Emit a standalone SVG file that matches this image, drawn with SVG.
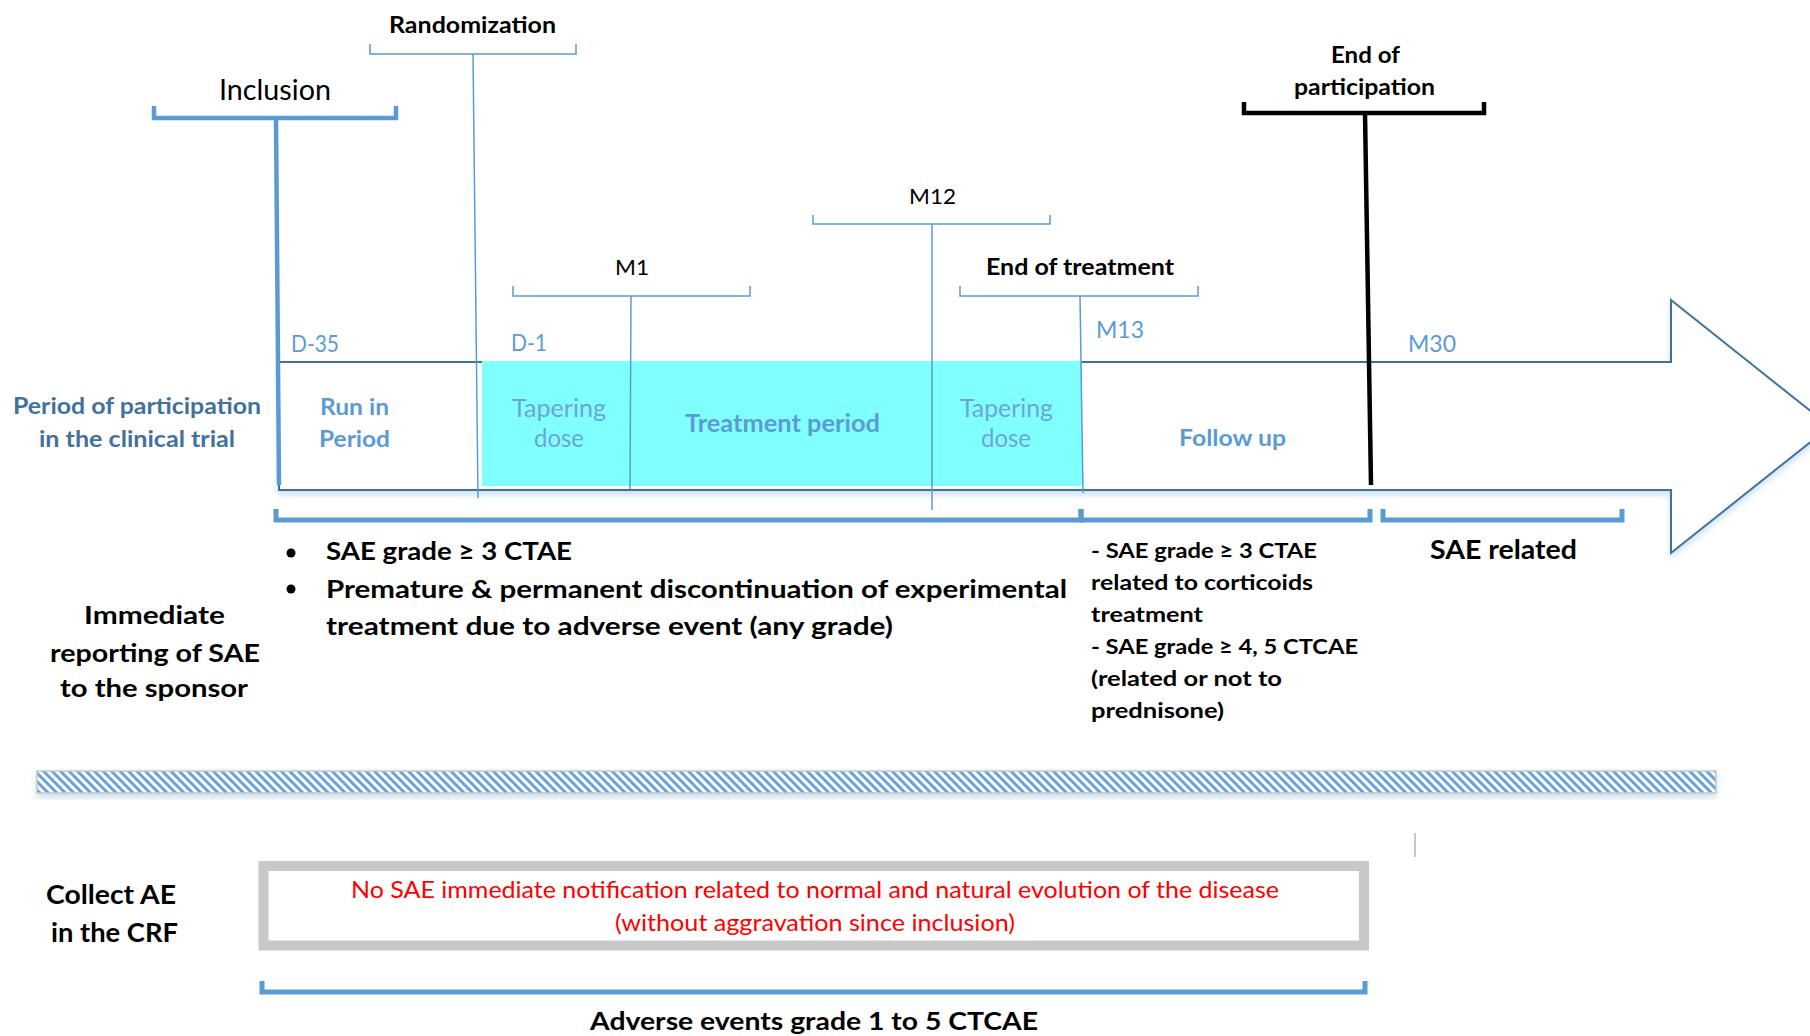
<svg xmlns="http://www.w3.org/2000/svg" width="1810" height="1036" viewBox="0 0 1810 1036">
<defs>
<style>
text{font-family:Lato,"Liberation Sans",sans-serif;}
.b{font-weight:700;}
.blk{fill:#000;}
.lb{fill:#5b9bd5;}
.dk{fill:#41719c;}
.tp{fill:#6fa3d8;}
.red{fill:#ff0000;}
.thin{fill:none;stroke:#5b9bd5;stroke-width:1.5;}
.thick{fill:none;stroke:#5b9bd5;stroke-width:5;}
.blkline{fill:none;stroke:#000;stroke-width:4.5;}
</style>
<pattern id="hatch" patternUnits="userSpaceOnUse" width="6" height="6" patternTransform="rotate(-45)">
<rect width="6" height="6" fill="#ffffff"/>
<rect width="3" height="6" fill="#6aa3da"/>
</pattern>
<filter id="sh" x="-5%" y="-20%" width="110%" height="150%">
<feDropShadow dx="0" dy="4" stdDeviation="3" flood-color="#5b9bd5" flood-opacity="0.3"/>
</filter>
</defs>
<rect width="1810" height="1036" fill="#ffffff"/>

<g id="timeline-arrow">
<polygon points="279,362 1671,362 1671,300 1830,426.5 1671,553 1671,490 279,490" fill="#ffffff" stroke="#41719c" stroke-width="2" filter="url(#sh)"/>
<rect x="482" y="361" width="600" height="125" fill="#80ffff"/>
</g>

<g id="connectors">
<path class="thin" d="M473,54 L478,498"/>
<path class="thin" d="M631,296 L630,489"/>
<path class="thin" d="M932,224 L932,510"/>
<path class="thin" d="M1080,296 L1083,493"/>
<path d="M276,118 L279,485" fill="none" stroke="#5b9bd5" stroke-width="4.5"/>
<path class="blkline" d="M1365,113 L1371,485"/>
</g>

<g id="inclusion">
<path d="M154,106 V118 H396 V106" fill="none" stroke="#5b9bd5" stroke-width="4.5"/>
<text x="219" y="100" font-size="28" class="blk" textLength="112" lengthAdjust="spacingAndGlyphs">Inclusion</text>
</g>
<g id="randomization">
<path class="thin" d="M370,44 V54 H576 V44"/>
<text x="389" y="33" font-size="22" class="b blk" textLength="167" lengthAdjust="spacingAndGlyphs">Randomization</text>
</g>
<g id="m1">
<path class="thin" d="M513,286 V296 H750 V286"/>
<text x="615" y="275" font-size="22" class="blk" textLength="34" lengthAdjust="spacingAndGlyphs">M1</text>
</g>
<g id="m12">
<path class="thin" d="M813,215 V224 H1050 V215"/>
<text x="909" y="204" font-size="22" class="blk" textLength="47" lengthAdjust="spacingAndGlyphs">M12</text>
</g>
<g id="end-of-treatment">
<path class="thin" d="M960,286 V296 H1198 V286"/>
<text x="986" y="275" font-size="22" class="b blk" textLength="188" lengthAdjust="spacingAndGlyphs">End of treatment</text>
</g>
<g id="end-of-participation">
<path class="blkline" d="M1244,102 V113 H1484 V102"/>
<text x="1331" y="63" font-size="22" class="b blk" textLength="69" lengthAdjust="spacingAndGlyphs">End of</text>
<text x="1294" y="95" font-size="22" class="b blk" textLength="141" lengthAdjust="spacingAndGlyphs">participation</text>
</g>

<g id="time-labels">
<text x="291" y="352" font-size="23" class="lb" textLength="48" lengthAdjust="spacingAndGlyphs">D-35</text>
<text x="511" y="351" font-size="23" class="lb" textLength="36" lengthAdjust="spacingAndGlyphs">D-1</text>
<text x="1096" y="338" font-size="23" class="lb" textLength="48" lengthAdjust="spacingAndGlyphs">M13</text>
<text x="1408" y="352" font-size="23" class="lb" textLength="48" lengthAdjust="spacingAndGlyphs">M30</text>
</g>

<g id="participation-label">
<text x="13" y="414" font-size="22.5" class="b dk" textLength="248" lengthAdjust="spacingAndGlyphs">Period of participation</text>
<text x="39" y="447" font-size="22.5" class="b dk" textLength="196" lengthAdjust="spacingAndGlyphs">in the clinical trial</text>
</g>
<g id="run-in">
<text x="320" y="415" font-size="23.5" class="b lb" textLength="69" lengthAdjust="spacingAndGlyphs">Run in</text>
<text x="319" y="447" font-size="23.5" class="b lb" textLength="71" lengthAdjust="spacingAndGlyphs">Period</text>
</g>
<g id="tapering-1">
<text x="512" y="417" font-size="25" class="tp" textLength="94" lengthAdjust="spacingAndGlyphs">Tapering</text>
<text x="534" y="447" font-size="25" class="tp" textLength="50" lengthAdjust="spacingAndGlyphs">dose</text>
</g>
<g id="treatment-period">
<text x="685" y="432" font-size="24" class="b lb" textLength="195" lengthAdjust="spacingAndGlyphs">Treatment period</text>
</g>
<g id="tapering-2">
<text x="960" y="417" font-size="25" class="tp" textLength="93" lengthAdjust="spacingAndGlyphs">Tapering</text>
<text x="981" y="447" font-size="25" class="tp" textLength="50" lengthAdjust="spacingAndGlyphs">dose</text>
</g>
<g id="follow-up">
<text x="1179" y="446" font-size="23" class="b lb" textLength="107" lengthAdjust="spacingAndGlyphs">Follow up</text>
</g>

<g id="brackets">
<path class="thick" d="M276,509 V520 H1081 V509"/>
<path class="thick" d="M1081,509 V520 H1370 V509"/>
<path class="thick" d="M1383,509 V520 H1622 V509"/>
</g>

<g id="sae-main">
<circle cx="291" cy="553" r="4.5" fill="#000"/>
<circle cx="291" cy="589" r="4.5" fill="#000"/>
<text x="326" y="560" font-size="24" class="b blk" textLength="246" lengthAdjust="spacingAndGlyphs">SAE grade ≥ 3 CTAE</text>
<text x="326" y="598" font-size="24" class="b blk" textLength="741" lengthAdjust="spacingAndGlyphs">Premature &amp; permanent discontinuation of experimental</text>
<text x="326" y="635" font-size="24" class="b blk" textLength="567" lengthAdjust="spacingAndGlyphs">treatment due to adverse event (any grade)</text>
</g>
<g id="sae-followup">
<text x="1091" y="558" font-size="21" class="b blk" textLength="226" lengthAdjust="spacingAndGlyphs">- SAE grade ≥ 3 CTAE</text>
<text x="1091" y="590" font-size="21" class="b blk" textLength="222" lengthAdjust="spacingAndGlyphs">related to corticoids</text>
<text x="1091" y="622" font-size="21" class="b blk" textLength="112" lengthAdjust="spacingAndGlyphs">treatment</text>
<text x="1091" y="654" font-size="21" class="b blk" textLength="267" lengthAdjust="spacingAndGlyphs">- SAE grade ≥ 4, 5 CTCAE</text>
<text x="1091" y="686" font-size="21" class="b blk" textLength="191" lengthAdjust="spacingAndGlyphs">(related or not to</text>
<text x="1091" y="718" font-size="21" class="b blk" textLength="133" lengthAdjust="spacingAndGlyphs">prednisone)</text>
</g>
<g id="sae-related">
<text x="1430" y="559" font-size="26" class="b blk" textLength="147" lengthAdjust="spacingAndGlyphs">SAE related</text>
</g>
<g id="immediate-reporting">
<text x="84" y="624" font-size="25" class="b blk" textLength="141" lengthAdjust="spacingAndGlyphs">Immediate</text>
<text x="50" y="662" font-size="25" class="b blk" textLength="210" lengthAdjust="spacingAndGlyphs">reporting of SAE</text>
<text x="60" y="697" font-size="25" class="b blk" textLength="188" lengthAdjust="spacingAndGlyphs">to the sponsor</text>
</g>

<g id="separator">
<rect x="37" y="771" width="1679" height="22" fill="url(#hatch)" stroke="#c8c8c8" stroke-width="1.5" filter="url(#sh)"/>
</g>

<g id="collect-ae">
<text x="46" y="904" font-size="26" class="b blk" textLength="130" lengthAdjust="spacingAndGlyphs">Collect AE</text>
<text x="51" y="942" font-size="26" class="b blk" textLength="127" lengthAdjust="spacingAndGlyphs">in the CRF</text>
</g>
<g id="notification-box">
<rect x="263.5" y="866" width="1100.5" height="79.5" fill="#ffffff" stroke="#c8c8c8" stroke-width="10"/>
<text x="351" y="898" font-size="23" class="red" textLength="928" lengthAdjust="spacingAndGlyphs">No SAE immediate notification related to normal and natural evolution of the disease</text>
<text x="615" y="931" font-size="23" class="red" textLength="400" lengthAdjust="spacingAndGlyphs">(without aggravation since inclusion)</text>
</g>
<line x1="1415" y1="833" x2="1415" y2="857" stroke="#c8c8c8" stroke-width="2"/>
<g id="adverse-events">
<path class="thick" d="M262,981 V992 H1365 V981"/>
<text x="590" y="1030" font-size="25" class="b blk" textLength="448" lengthAdjust="spacingAndGlyphs">Adverse events grade 1 to 5 CTCAE</text>
</g>
</svg>
